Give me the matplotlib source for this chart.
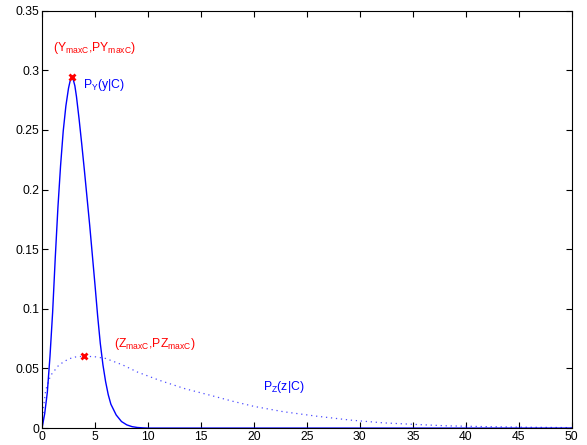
import matplotlib
matplotlib.use('Agg')
import matplotlib.pyplot as plt

plt.rcParams['font.family'] = ['Liberation Sans', 'DejaVu Sans']
plt.rcParams['mathtext.fontset'] = 'custom'
plt.rcParams['mathtext.rm'] = 'Liberation Sans'
plt.rcParams['mathtext.it'] = 'Liberation Sans'

# P_Y(y|C)
y_x = [0, 0.25, 0.5, 0.75, 1.0, 1.25, 1.5, 1.75, 2.0, 2.25, 2.5, 2.65, 2.8,
       2.95, 3.1, 3.25, 3.5, 3.75, 4.0, 4.25, 4.5, 4.75, 5.0, 5.25, 5.5, 5.75,
       6.0, 6.25, 6.5, 7.0, 7.5, 8.0, 8.5, 9.0, 9.5, 10.0, 50.0]
y_p = [0, 0.012, 0.03, 0.06, 0.097, 0.143, 0.185, 0.22, 0.249, 0.27, 0.285,
       0.291, 0.294, 0.292, 0.287, 0.278, 0.259, 0.238, 0.216, 0.193, 0.17,
       0.145, 0.12, 0.094, 0.071, 0.053, 0.039, 0.028, 0.02, 0.011, 0.0055,
       0.0027, 0.0012, 0.0005, 0.0002, 0.0, 0.0]

# P_Z(z|C)
z_x = [0, 0.15, 0.35, 0.8, 1.6, 2.5, 3.2, 4.0, 5.0, 6.0, 7.6, 9.0, 11.1, 13.5,
       15.8, 18.0, 20.0, 22.8, 25.9, 29.1, 32.2, 35.4, 38.2, 42.0, 46.0, 50.0]
z_p = [0, 0.018, 0.032, 0.044, 0.053, 0.058, 0.0597, 0.0603, 0.0598, 0.0584,
       0.053, 0.047, 0.040, 0.033, 0.0277, 0.0225, 0.0182, 0.0137, 0.010,
       0.0067, 0.0044, 0.003, 0.0019, 0.0012, 0.0007, 0.0004]

y_max = (2.8, 0.294)
z_max = (4.0, 0.0603)

fig = plt.figure(figsize=(5.87, 4.45), dpi=100)
ax = fig.add_axes([0.0716, 0.038, 0.9024, 0.938])

ax.plot(y_x, y_p, color='blue', lw=1.0)
ax.plot(z_x, z_p, color='blue', lw=0.9, linestyle=(0, (1, 3)), alpha=0.7)
ax.plot([y_max[0], z_max[0]], [y_max[1], z_max[1]], 'x', color='red',
        ms=4.5, mew=2)

fs = 8.8
ax.text(1.0, 0.316, r'(Y$_{\rm maxC}$,PY$_{\rm maxC}$)', color='red', fontsize=fs)
ax.text(3.9, 0.285, r'P$_{\rm Y}$(y|C)', color='blue', fontsize=fs)
ax.text(6.8, 0.068, r'(Z$_{\rm maxC}$,PZ$_{\rm maxC}$)', color='red', fontsize=fs)
ax.text(20.9, 0.032, r'P$_{\rm Z}$(z|C)', color='blue', fontsize=fs)

ax.set_xlim(0, 50)
ax.set_ylim(0, 0.35)
ax.set_xticks(range(0, 51, 5))
ax.set_yticks([0, 0.05, 0.1, 0.15, 0.2, 0.25, 0.3, 0.35])
ax.set_yticklabels(['0', '0.05', '0.1', '0.15', '0.2', '0.25', '0.3', '0.35'])
ax.tick_params(direction='in', top=True, right=True, length=4, width=0.8,
               labelsize=8.7, pad=2)
for s in ax.spines.values():
    s.set_linewidth(0.8)

fig.savefig('out.png', dpi=100)
